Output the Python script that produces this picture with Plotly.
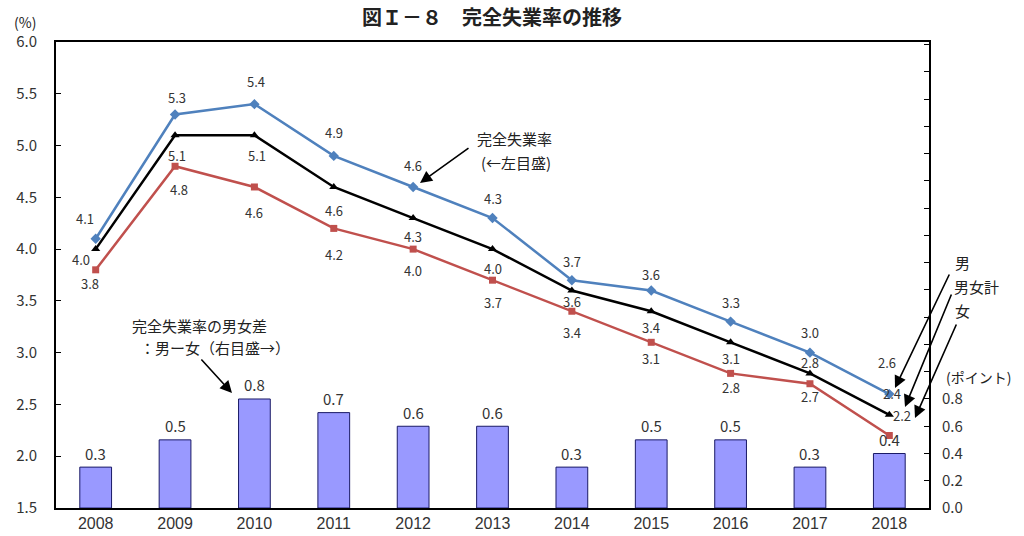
import plotly.graph_objects as go

years = ["2008", "2009", "2010", "2011", "2012", "2013", "2014", "2015", "2016", "2017", "2018"]
male = [4.1, 5.3, 5.4, 4.9, 4.6, 4.3, 3.7, 3.6, 3.3, 3.0, 2.6]
total = [4.0, 5.1, 5.1, 4.6, 4.3, 4.0, 3.6, 3.4, 3.1, 2.8, 2.4]
female = [3.8, 4.8, 4.6, 4.2, 4.0, 3.7, 3.4, 3.1, 2.8, 2.7, 2.2]
gap = [0.3, 0.5, 0.8, 0.7, 0.6, 0.6, 0.3, 0.5, 0.5, 0.3, 0.4]

left_ticks = [1.5, 2.0, 2.5, 3.0, 3.5, 4.0, 4.5, 5.0, 5.5, 6.0]
right_ticks = [0.0, 0.2, 0.4, 0.6, 0.8]

# label offsets in screen pixels (down positive)
male_dy = [-20, -17, -23, -23, -21, -20, -19, -16, -19, -20, -32]
total_dy = [10, 20, 20, 24, 18, 19, 11, 16, 16, -11, -21]
female_dy = [14, 23, 26, 26, 21, 22, 21, 16, 14, 13, -20]
male_dx = [-11, 2, 2, 0, 0, 0, 0, 0, 0, 0, -2]
total_dx = [-15, 2, 3, 0, 0, 0, 0, 0, 0, 0, 3]
female_dx = [-6, 4, 0, 0, 0, 0, 0, 0, 0, 0, 13]

FONT = "Noto Sans CJK JP"
NUMFONT = "Liberation Sans Narrow, Arial Narrow, Liberation Sans, sans-serif"
TXT = "#333333"

L, R, T, B = 56, 95, 42, 28
W, H = 1024, 536
PW, PH = W - L - R, H - T - B


def px(xp):
    return (xp - L) / PW


def py(yp):
    return (H - B - yp) / PH


fig = go.Figure()

fig.add_trace(go.Bar(x=years, y=gap, yaxis="y2", width=0.4,
                     marker=dict(color="#9999FF", line=dict(color="#1a1a66", width=1)),
                     showlegend=False, hoverinfo="skip"))

series = [
    (male, "#4F81BD", "diamond", 8, male_dx, male_dy),
    (total, "#000000", "triangle-up", 8, total_dx, total_dy),
    (female, "#C0504D", "square", 7, female_dx, female_dy),
]
annotations = []
for vals, col, sym, ms, dxs, dys in series:
    fig.add_trace(go.Scatter(x=years, y=vals, mode="lines+markers",
                             line=dict(color=col, width=2.5),
                             marker=dict(symbol=sym, size=ms, color=col),
                             showlegend=False, hoverinfo="skip"))
    for i, (v, dx, dy) in enumerate(zip(vals, dxs, dys)):
        annotations.append(dict(x=i, y=v, xref="x", yref="y", text=f"{v:.1f}",
                                showarrow=False, xshift=dx, yshift=-dy,
                                font=dict(family=FONT, size=13, color=TXT)))

for i, v in enumerate(gap):
    annotations.append(dict(x=i, y=v, xref="x", yref="y2", text=f"{v:.1f}",
                            showarrow=False, yshift=14,
                            font=dict(family=FONT, size=15, color=TXT)))


def text(xp, yp, s, size=15, anchor="center", bold=False):
    annotations.append(dict(x=px(xp), y=py(yp), xref="paper", yref="paper",
                            text=(f"<b>{s}</b>" if bold else s), showarrow=False,
                            xanchor=anchor, yanchor="middle",
                            font=dict(family=FONT, size=size, color="#222222")))


def arrow(x0, y0, x1, y1):
    annotations.append(dict(x=px(x1), y=py(y1), xref="paper", yref="paper",
                            ax=x0 - x1, ay=y0 - y1, axref="pixel", ayref="pixel",
                            text="", showarrow=True, arrowhead=2, arrowsize=1.5,
                            arrowwidth=1.6, arrowcolor="#000000", standoff=0))


text(492, 17, "図Ｉ－８　完全失業率の推移", size=20, bold=True)
text(25, 22, "(%)", size=14)
text(514, 138, "完全失業率", size=15)
text(516, 162, "(←左目盛)", size=15)
arrow(470, 147, 420, 183)
text(130, 325, "完全失業率の男女差", size=15, anchor="left")
text(138, 347, "：男ー女（右目盛→）", size=15, anchor="left")
arrow(200, 358, 232, 393)
text(962, 262, "男", size=15)
text(976, 286, "男女計", size=15)
text(962, 310, "女", size=15)
arrow(950, 273, 895, 388)
arrow(952, 293, 905, 407)
arrow(957, 323, 915, 418)
text(978, 377, "(ポイント)", size=14)

fig.update_layout(
    width=W, height=H,
    margin=dict(l=L, r=R, t=T, b=B, autoexpand=False),
    plot_bgcolor="white", paper_bgcolor="white",
    bargap=0.6,
    annotations=annotations,
    xaxis=dict(type="category", range=[-0.5, 10.5], showline=True, linecolor="black",
               linewidth=2, mirror=True, ticks="", showgrid=False, automargin=False,
               tickfont=dict(family=NUMFONT, size=16, color=TXT)),
    yaxis=dict(range=[1.5, 6.0], tickvals=left_ticks, ticktext=[f"{v:.1f}" for v in left_ticks],
               showline=True, linecolor="black", linewidth=2, mirror=True, automargin=False,
               ticks="inside", ticklen=5, tickcolor="black", showgrid=False, zeroline=False,
               ticklabelstandoff=14,
               tickfont=dict(family=FONT, size=15, color=TXT)),
    yaxis2=dict(range=[0, 3.42], overlaying="y", side="right", automargin=False,
                tickvals=[round(0.2 * i, 1) for i in range(18)],
                ticktext=[f"{0.2 * i:.1f}" if round(0.2 * i, 1) in right_ticks else "" for i in range(18)],
                ticks="inside", ticklen=5, tickcolor="black", showgrid=False, zeroline=False,
                showline=False, ticklabelstandoff=12,
                tickfont=dict(family=FONT, size=15, color=TXT)),
)

fig.write_html("out.html", config={"displayModeBar": False},
               post_script="document.body.style.margin='0';")
